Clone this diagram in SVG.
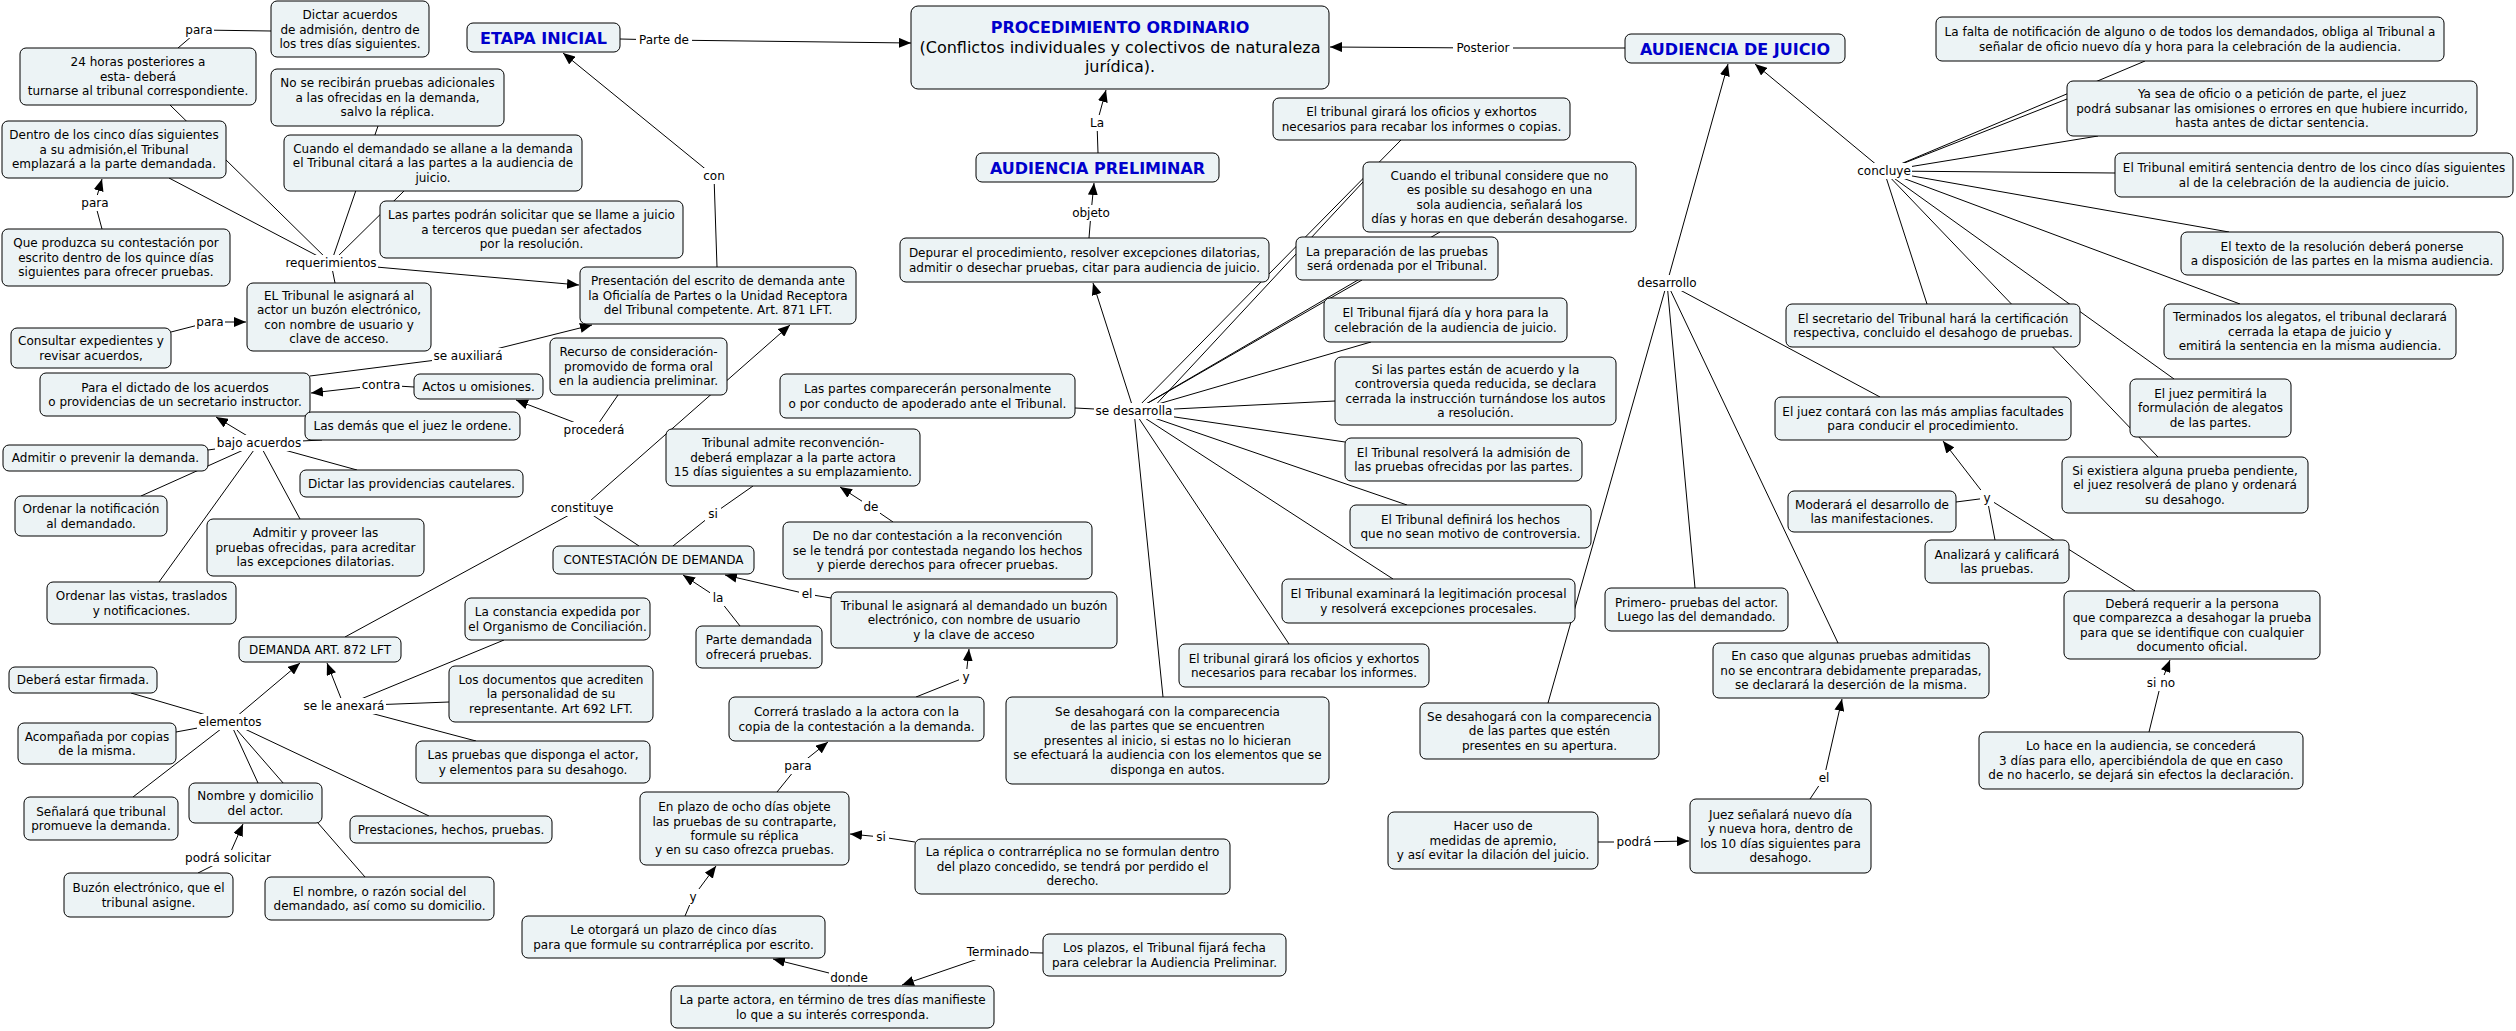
<svg xmlns="http://www.w3.org/2000/svg" width="2516" height="1031" viewBox="0 0 2516 1031">
<defs>
<marker id="ah" markerWidth="12" markerHeight="10" refX="12" refY="5" orient="auto" markerUnits="userSpaceOnUse"><path d="M0,0 L12,5 L0,10 z" fill="#000"/></marker>
<style>
.bg{fill:#fff}
.n rect{fill:#ECF3F5;stroke:#000;stroke-width:1}
.t{font-family:"DejaVu Sans",Verdana,sans-serif;font-size:12px;text-anchor:middle;fill:#000}
.ti{font-family:"DejaVu Sans",Verdana,sans-serif;font-size:16px;font-weight:bold;text-anchor:middle;fill:#0000CC}
.st{font-family:"DejaVu Sans",Verdana,sans-serif;font-size:16px;text-anchor:middle;fill:#000}
.c path{fill:none;stroke:#000;stroke-width:1}
.c path.a{marker-end:url(#ah)}
.lb rect{fill:#fff}
</style>
</defs>
<rect class="bg" x="0" y="0" width="2516" height="1031"/>
<g id="connectors" class="c">
<path d="M620,39 L664,40"/><path class="a" d="M664,40 L911,43"/>
<path d="M717,267 L714,176"/><path class="a" d="M714,176 L563,53"/>
<path d="M1098,153 L1097,123"/><path class="a" d="M1097,123 L1106,90"/>
<path d="M1089,238 L1091,213"/><path class="a" d="M1091,213 L1094,183"/>
<path d="M1625,48 L1483,48"/><path class="a" d="M1483,48 L1330,47"/>
<path class="a" d="M1134,411 L1093,283"/>
<path d="M1134,411 L1075,408"/>
<path d="M1134,411 L1401,140"/>
<path d="M1150,411 L1363,182"/>
<path d="M1134,411 L1362,280"/>
<path d="M1134,411 L1440,232"/>
<path d="M1134,411 L1371,342"/>
<path d="M1134,411 L1335,401"/>
<path d="M1134,411 L1345,442"/>
<path d="M1134,411 L1407,505"/>
<path d="M1134,411 L1393,579"/>
<path d="M1134,411 L1289,644"/>
<path d="M1134,411 L1163,697"/>
<path class="a" d="M1667,283 L1728,64"/>
<path d="M1667,283 L1548,703"/>
<path d="M1667,283 L1695,588"/>
<path d="M1667,283 L1838,643"/>
<path d="M1667,283 L1880,397"/>
<path class="a" d="M1884,171 L1755,64"/>
<path d="M1884,171 L2145,61"/>
<path d="M1884,171 L2067,99"/>
<path d="M1884,171 L2098,136"/>
<path d="M1884,171 L2115,173"/>
<path d="M1884,171 L2229,232"/>
<path d="M1884,171 L2240,304"/>
<path d="M1884,171 L2174,379"/>
<path d="M1884,171 L1927,304"/>
<path d="M1884,171 L2158,457"/>
<path class="a" d="M1987,498 L1943,441"/>
<path d="M1956,502 L1987,498"/>
<path d="M1987,498 L1995,540"/>
<path d="M1987,498 L2135,591"/>
<path d="M2149,732 L2161,683"/><path class="a" d="M2161,683 L2170,660"/>
<path d="M1598,842 L1634,842"/><path class="a" d="M1634,842 L1689,841"/>
<path d="M1810,799 L1824,778"/><path class="a" d="M1824,778 L1842,699"/>
<path d="M1043,953 L998,952"/><path class="a" d="M998,952 L902,985"/>
<path d="M849,986 L849,978"/><path class="a" d="M849,978 L773,959"/>
<path d="M685,916 L693,897"/><path class="a" d="M693,897 L716,866"/>
<path d="M915,842 L881,837"/><path class="a" d="M881,837 L850,834"/>
<path d="M777,792 L798,766"/><path class="a" d="M798,766 L828,742"/>
<path d="M916,697 L966,677"/><path class="a" d="M966,677 L969,649"/>
<path d="M831,598 L807,594"/><path class="a" d="M807,594 L725,575"/>
<path d="M740,626 L718,598"/><path class="a" d="M718,598 L683,575"/>
<path d="M893,522 L871,507"/><path class="a" d="M871,507 L840,487"/>
<path d="M673,546 L713,514"/><path d="M713,514 L753,486"/>
<path d="M639,546 L582,508"/><path d="M345,637 L582,508"/><path class="a" d="M582,508 L790,325"/>
<path class="a" d="M344,706 L327,663"/>
<path d="M344,706 L504,640"/>
<path d="M344,706 L449,702"/>
<path d="M344,706 L476,741"/>
<path class="a" d="M230,722 L300,663"/>
<path d="M230,722 L131,693"/>
<path d="M230,722 L176,732"/>
<path d="M230,722 L133,797"/>
<path d="M230,722 L258,783"/>
<path d="M230,722 L365,877"/>
<path d="M230,722 L429,816"/>
<path d="M198,873 L228,858"/><path class="a" d="M228,858 L243,824"/>
<path class="a" d="M259,443 L216,417"/>
<path d="M259,443 L322,440"/>
<path d="M259,443 L208,450"/>
<path d="M259,443 L141,496"/>
<path d="M259,443 L159,582"/>
<path d="M259,443 L300,519"/>
<path d="M259,443 L357,470"/>
<path d="M414,387 L381,385"/><path class="a" d="M381,385 L311,393"/>
<path d="M618,395 L594,430"/><path class="a" d="M594,430 L516,400"/>
<path d="M310,376 L468,356"/><path class="a" d="M468,356 L592,325"/>
<path d="M171,332 L210,322"/><path class="a" d="M210,322 L246,322"/>
<path class="a" d="M331,263 L579,285"/>
<path d="M331,263 L170,105"/>
<path d="M331,263 L169,178"/>
<path d="M331,263 L378,126"/>
<path d="M331,263 L404,191"/>
<path d="M331,263 L335,283"/>
<path d="M102,229 L95,203"/><path class="a" d="M95,203 L102,179"/>
<path d="M178,48 L199,30"/><path d="M199,30 L271,31"/>
<g class="lb">
<rect x="184" y="22" width="30" height="16"/><text class="t" x="199" y="34.3">para</text>
<rect x="636" y="32" width="56" height="16"/><text class="t" x="664" y="44.3">Parte de</text>
<rect x="701" y="168" width="26" height="16"/><text class="t" x="714" y="180.3">con</text>
<rect x="284" y="255" width="94" height="16"/><text class="t" x="331" y="267.3">requerimientos</text>
<rect x="80" y="195" width="30" height="16"/><text class="t" x="95" y="207.3">para</text>
<rect x="195" y="314" width="30" height="16"/><text class="t" x="210" y="326.3">para</text>
<rect x="432" y="348" width="72" height="16"/><text class="t" x="468" y="360.3">se auxiliará</text>
<rect x="360" y="377" width="42" height="16"/><text class="t" x="381" y="389.3">contra</text>
<rect x="562" y="422" width="64" height="16"/><text class="t" x="594" y="434.3">procederá</text>
<rect x="215" y="435" width="88" height="16"/><text class="t" x="259" y="447.3">bajo acuerdos</text>
<rect x="549" y="500" width="66" height="16"/><text class="t" x="582" y="512.3">constituye</text>
<rect x="705" y="506" width="16" height="16"/><text class="t" x="713" y="518.3">si</text>
<rect x="862" y="499" width="18" height="16"/><text class="t" x="871" y="511.3">de</text>
<rect x="710" y="590" width="16" height="16"/><text class="t" x="718" y="602.3">la</text>
<rect x="799" y="586" width="16" height="16"/><text class="t" x="807" y="598.3">el</text>
<rect x="302" y="698" width="84" height="16"/><text class="t" x="344" y="710.3">se le anexará</text>
<rect x="197" y="714" width="66" height="16"/><text class="t" x="230" y="726.3">elementos</text>
<rect x="181" y="850" width="94" height="16"/><text class="t" x="228" y="862.3">podrá solicitar</text>
<rect x="959" y="669" width="14" height="16"/><text class="t" x="966" y="681.3">y</text>
<rect x="783" y="758" width="30" height="16"/><text class="t" x="798" y="770.3">para</text>
<rect x="873" y="829" width="16" height="16"/><text class="t" x="881" y="841.3">si</text>
<rect x="686" y="889" width="14" height="16"/><text class="t" x="693" y="901.3">y</text>
<rect x="829" y="970" width="40" height="15"/><text class="t" x="849" y="982.3">donde</text>
<rect x="966" y="944" width="64" height="16"/><text class="t" x="998" y="956.3">Terminado</text>
<rect x="1087" y="115" width="20" height="16"/><text class="t" x="1097" y="127.3">La</text>
<rect x="1069" y="205" width="44" height="16"/><text class="t" x="1091" y="217.3">objeto</text>
<rect x="1094" y="403" width="80" height="16"/><text class="t" x="1134" y="415.3">se desarrolla</text>
<rect x="1453" y="40" width="60" height="16"/><text class="t" x="1483" y="52.3">Posterior</text>
<rect x="1635" y="275" width="64" height="16"/><text class="t" x="1667" y="287.3">desarrollo</text>
<rect x="1856" y="163" width="56" height="16"/><text class="t" x="1884" y="175.3">concluye</text>
<rect x="1980" y="490" width="14" height="16"/><text class="t" x="1987" y="502.3">y</text>
<rect x="2144" y="675" width="34" height="16"/><text class="t" x="2161" y="687.3">si no</text>
<rect x="1614" y="834" width="40" height="16"/><text class="t" x="1634" y="846.3">podrá</text>
<rect x="1816" y="770" width="16" height="16"/><text class="t" x="1824" y="782.3">el</text>
</g>
</g>
<g id="procedimiento" class="n"><rect x="911" y="6" width="418" height="83" rx="7"/><text class="ti" x="1120" y="33">PROCEDIMIENTO ORDINARIO</text><text class="st" x="1120" y="53">(Conflictos individuales y colectivos de naturaleza</text><text class="st" x="1120" y="72">jurídica).</text></g>
<g id="etapa" class="n"><rect x="467" y="23" width="153" height="29" rx="6"/><text class="ti" x="543.5" y="43.5">ETAPA INICIAL</text></g>
<g id="audPrel" class="n"><rect x="976" y="153" width="243" height="29" rx="6"/><text class="ti" x="1097.5" y="173.5">AUDIENCIA PRELIMINAR</text></g>
<g id="audJuicio" class="n"><rect x="1625" y="34" width="220" height="29" rx="6"/><text class="ti" x="1735" y="54.5">AUDIENCIA DE JUICIO</text></g>
<g id="dictar" class="n"><rect x="271" y="1" width="158" height="56" rx="6"/><text class="t" x="350" y="19.1"><tspan x="350">Dictar acuerdos</tspan><tspan x="350" dy="14.4">de admisión, dentro de</tspan><tspan x="350" dy="14.4">los tres días siguientes.</tspan></text></g>
<g id="h24" class="n"><rect x="20" y="48" width="236" height="57" rx="6"/><text class="t" x="138" y="66.4"><tspan x="138">24 horas posteriores a</tspan><tspan x="138" dy="14.4">esta- deberá</tspan><tspan x="138" dy="14.4">turnarse al tribunal correspondiente.</tspan></text></g>
<g id="norecib" class="n"><rect x="271" y="69" width="233" height="57" rx="6"/><text class="t" x="387.5" y="87.4"><tspan x="387.5">No se recibirán pruebas adicionales</tspan><tspan x="387.5" dy="14.4">a las ofrecidas en la demanda,</tspan><tspan x="387.5" dy="14.4">salvo la réplica.</tspan></text></g>
<g id="dentro" class="n"><rect x="2" y="121" width="224" height="57" rx="6"/><text class="t" x="114" y="139.4"><tspan x="114">Dentro de los cinco días siguientes</tspan><tspan x="114" dy="14.4">a su admisión,el Tribunal</tspan><tspan x="114" dy="14.4">emplazará a la parte demandada.</tspan></text></g>
<g id="cuandoDem" class="n"><rect x="284" y="135" width="298" height="56" rx="6"/><text class="t" x="433" y="152.9"><tspan x="433">Cuando el demandado se allane a la demanda</tspan><tspan x="433" dy="14.4">el Tribunal citará a las partes a la audiencia de</tspan><tspan x="433" dy="14.4">juicio.</tspan></text></g>
<g id="partesPod" class="n"><rect x="380" y="201" width="303" height="57" rx="6"/><text class="t" x="531.5" y="219.4"><tspan x="531.5">Las partes podrán solicitar que se llame a juicio</tspan><tspan x="531.5" dy="14.4">a terceros que puedan ser afectados</tspan><tspan x="531.5" dy="14.4">por la resolución.</tspan></text></g>
<g id="produzca" class="n"><rect x="2" y="229" width="228" height="57" rx="6"/><text class="t" x="116" y="247.4"><tspan x="116">Que produzca su contestación por</tspan><tspan x="116" dy="14.4">escrito dentro de los quince días</tspan><tspan x="116" dy="14.4">siguientes para ofrecer pruebas.</tspan></text></g>
<g id="elTribActor" class="n"><rect x="247" y="283" width="184" height="68" rx="6"/><text class="t" x="339" y="299.7"><tspan x="339">EL Tribunal le asignará al</tspan><tspan x="339" dy="14.4">actor un buzón electrónico,</tspan><tspan x="339" dy="14.4">con nombre de usuario y</tspan><tspan x="339" dy="14.4">clave de acceso.</tspan></text></g>
<g id="presentacion" class="n"><rect x="580" y="267" width="276" height="57" rx="6"/><text class="t" x="718" y="285.4"><tspan x="718">Presentación del escrito de demanda ante</tspan><tspan x="718" dy="14.4">la Oficialía de Partes o la Unidad Receptora</tspan><tspan x="718" dy="14.4">del Tribunal competente. Art. 871 LFT.</tspan></text></g>
<g id="consultar" class="n"><rect x="11" y="328" width="160" height="40" rx="6"/><text class="t" x="91" y="345.1"><tspan x="91">Consultar expedientes y</tspan><tspan x="91" dy="14.4">revisar acuerdos,</tspan></text></g>
<g id="recurso" class="n"><rect x="550" y="338" width="177" height="57" rx="6"/><text class="t" x="638.5" y="356.4"><tspan x="638.5">Recurso de consideración-</tspan><tspan x="638.5" dy="14.4">promovido de forma oral</tspan><tspan x="638.5" dy="14.4">en la audiencia preliminar.</tspan></text></g>
<g id="paraDictado" class="n"><rect x="40" y="373" width="270" height="43" rx="6"/><text class="t" x="175" y="391.6"><tspan x="175">Para el dictado de los acuerdos</tspan><tspan x="175" dy="14.4">o providencias de un secretario instructor.</tspan></text></g>
<g id="actos" class="n"><rect x="414" y="374" width="129" height="25" rx="6"/><text class="t" x="478.5" y="390.8">Actos u omisiones.</text></g>
<g id="lasDemas" class="n"><rect x="305" y="412" width="215" height="28" rx="6"/><text class="t" x="412.5" y="430.3">Las demás que el juez le ordene.</text></g>
<g id="admitirPrev" class="n"><rect x="3" y="445" width="205" height="26" rx="6"/><text class="t" x="105.5" y="462.3">Admitir o prevenir la demanda.</text></g>
<g id="dictarProv" class="n"><rect x="300" y="470" width="223" height="27" rx="6"/><text class="t" x="411.5" y="487.8">Dictar las providencias cautelares.</text></g>
<g id="ordenarNotif" class="n"><rect x="15" y="496" width="152" height="40" rx="6"/><text class="t" x="91" y="513.1"><tspan x="91">Ordenar la notificación</tspan><tspan x="91" dy="14.4">al demandado.</tspan></text></g>
<g id="admitirProv" class="n"><rect x="207" y="519" width="217" height="57" rx="6"/><text class="t" x="315.5" y="537.4"><tspan x="315.5">Admitir y proveer las</tspan><tspan x="315.5" dy="14.4">pruebas ofrecidas, para acreditar</tspan><tspan x="315.5" dy="14.4">las excepciones dilatorias.</tspan></text></g>
<g id="ordenarVistas" class="n"><rect x="47" y="582" width="189" height="42" rx="6"/><text class="t" x="141.5" y="600.1"><tspan x="141.5">Ordenar las vistas, traslados</tspan><tspan x="141.5" dy="14.4">y notificaciones.</tspan></text></g>
<g id="contestacion" class="n"><rect x="553" y="546" width="201" height="28" rx="6"/><text class="t" x="653.5" y="564.3">CONTESTACIÓN DE DEMANDA</text></g>
<g id="demanda" class="n"><rect x="239" y="637" width="162" height="25" rx="6"/><text class="t" x="320" y="653.8">DEMANDA ART. 872 LFT</text></g>
<g id="constancia" class="n"><rect x="465" y="598" width="185" height="42" rx="6"/><text class="t" x="557.5" y="616.1"><tspan x="557.5">La constancia expedida por</tspan><tspan x="557.5" dy="14.4">el Organismo de Conciliación.</tspan></text></g>
<g id="documentos" class="n"><rect x="449" y="666" width="204" height="56" rx="6"/><text class="t" x="551" y="683.9"><tspan x="551">Los documentos que acrediten</tspan><tspan x="551" dy="14.4">la personalidad de su</tspan><tspan x="551" dy="14.4">representante. Art 692 LFT.</tspan></text></g>
<g id="pruebasActor" class="n"><rect x="416" y="741" width="234" height="42" rx="6"/><text class="t" x="533" y="759.1"><tspan x="533">Las pruebas que disponga el actor,</tspan><tspan x="533" dy="14.4">y elementos para su desahogo.</tspan></text></g>
<g id="firmada" class="n"><rect x="9" y="667" width="148" height="26" rx="6"/><text class="t" x="83" y="684.3">Deberá estar firmada.</text></g>
<g id="acompanada" class="n"><rect x="18" y="723" width="158" height="41" rx="6"/><text class="t" x="97" y="740.6"><tspan x="97">Acompañada por copias</tspan><tspan x="97" dy="14.4">de la misma.</tspan></text></g>
<g id="senalara" class="n"><rect x="24" y="797" width="154" height="43" rx="6"/><text class="t" x="101" y="815.6"><tspan x="101">Señalará que tribunal</tspan><tspan x="101" dy="14.4">promueve la demanda.</tspan></text></g>
<g id="nombreActor" class="n"><rect x="189" y="783" width="133" height="40" rx="6"/><text class="t" x="255.5" y="800.1"><tspan x="255.5">Nombre y domicilio</tspan><tspan x="255.5" dy="14.4">del actor.</tspan></text></g>
<g id="prestaciones" class="n"><rect x="350" y="816" width="202" height="27" rx="6"/><text class="t" x="451" y="833.8">Prestaciones, hechos, pruebas.</text></g>
<g id="buzon" class="n"><rect x="64" y="873" width="169" height="44" rx="6"/><text class="t" x="148.5" y="892.1"><tspan x="148.5">Buzón electrónico, que el</tspan><tspan x="148.5" dy="14.4">tribunal asigne.</tspan></text></g>
<g id="nombreDem" class="n"><rect x="265" y="877" width="229" height="43" rx="6"/><text class="t" x="379.5" y="895.6"><tspan x="379.5">El nombre, o razón social del</tspan><tspan x="379.5" dy="14.4">demandado, así como su domicilio.</tspan></text></g>
<g id="partesComp" class="n"><rect x="780" y="374" width="295" height="44" rx="6"/><text class="t" x="927.5" y="393.1"><tspan x="927.5">Las partes comparecerán personalmente</tspan><tspan x="927.5" dy="14.4">o por conducto de apoderado ante el Tribunal.</tspan></text></g>
<g id="reconv" class="n"><rect x="666" y="429" width="254" height="57" rx="6"/><text class="t" x="793" y="447.4"><tspan x="793">Tribunal admite reconvención-</tspan><tspan x="793" dy="14.4">deberá emplazar a la parte actora</tspan><tspan x="793" dy="14.4">15 días siguientes a su emplazamiento.</tspan></text></g>
<g id="deNoDar" class="n"><rect x="783" y="522" width="309" height="57" rx="6"/><text class="t" x="937.5" y="540.4"><tspan x="937.5">De no dar contestación a la reconvención</tspan><tspan x="937.5" dy="14.4">se le tendrá por contestada negando los hechos</tspan><tspan x="937.5" dy="14.4">y pierde derechos para ofrecer pruebas.</tspan></text></g>
<g id="parteDem" class="n"><rect x="696" y="626" width="126" height="42" rx="6"/><text class="t" x="759" y="644.1"><tspan x="759">Parte demandada</tspan><tspan x="759" dy="14.4">ofrecerá pruebas.</tspan></text></g>
<g id="tribDem" class="n"><rect x="831" y="592" width="286" height="56" rx="6"/><text class="t" x="974" y="609.9"><tspan x="974">Tribunal le asignará al demandado un buzón</tspan><tspan x="974" dy="14.4">electrónico, con nombre de usuario</tspan><tspan x="974" dy="14.4">y la clave de acceso</tspan></text></g>
<g id="correra" class="n"><rect x="729" y="697" width="255" height="44" rx="6"/><text class="t" x="856.5" y="716.1"><tspan x="856.5">Correrá traslado a la actora con la</tspan><tspan x="856.5" dy="14.4">copia de la contestación a la demanda.</tspan></text></g>
<g id="enPlazo" class="n"><rect x="640" y="792" width="209" height="73" rx="6"/><text class="t" x="744.5" y="811.2"><tspan x="744.5">En plazo de ocho días objete</tspan><tspan x="744.5" dy="14.4">las pruebas de su contraparte,</tspan><tspan x="744.5" dy="14.4">formule su réplica</tspan><tspan x="744.5" dy="14.4">y en su caso ofrezca pruebas.</tspan></text></g>
<g id="replica" class="n"><rect x="915" y="839" width="315" height="55" rx="6"/><text class="t" x="1072.5" y="856.4"><tspan x="1072.5">La réplica o contrarréplica no se formulan dentro</tspan><tspan x="1072.5" dy="14.4">del plazo concedido, se tendrá por perdido el</tspan><tspan x="1072.5" dy="14.4">derecho.</tspan></text></g>
<g id="otorgara" class="n"><rect x="522" y="916" width="303" height="42" rx="6"/><text class="t" x="673.5" y="934.1"><tspan x="673.5">Le otorgará un plazo de cinco días</tspan><tspan x="673.5" dy="14.4">para que formule su contrarréplica por escrito.</tspan></text></g>
<g id="parteActora" class="n"><rect x="671" y="986" width="323" height="42" rx="6"/><text class="t" x="832.5" y="1004.1"><tspan x="832.5">La parte actora, en término de tres días manifieste</tspan><tspan x="832.5" dy="14.4">lo que a su interés corresponda.</tspan></text></g>
<g id="plazos" class="n"><rect x="1043" y="934" width="243" height="42" rx="6"/><text class="t" x="1164.5" y="952.1"><tspan x="1164.5">Los plazos, el Tribunal fijará fecha</tspan><tspan x="1164.5" dy="14.4">para celebrar la Audiencia Preliminar.</tspan></text></g>
<g id="desahogaIzq" class="n"><rect x="1006" y="697" width="323" height="87" rx="6"/><text class="t" x="1167.5" y="716"><tspan x="1167.5">Se desahogará con la comparecencia</tspan><tspan x="1167.5" dy="14.4">de las partes que se encuentren</tspan><tspan x="1167.5" dy="14.4">presentes al inicio, si estas no lo hicieran</tspan><tspan x="1167.5" dy="14.4">se efectuará la audiencia con los elementos que se</tspan><tspan x="1167.5" dy="14.4">disponga en autos.</tspan></text></g>
<g id="depurar" class="n"><rect x="900" y="238" width="369" height="44" rx="6"/><text class="t" x="1084.5" y="257.1"><tspan x="1084.5">Depurar el procedimiento, resolver excepciones dilatorias,</tspan><tspan x="1084.5" dy="14.4">admitir o desechar pruebas, citar para audiencia de juicio.</tspan></text></g>
<g id="girarTop" class="n"><rect x="1273" y="98" width="297" height="42" rx="6"/><text class="t" x="1421.5" y="116.1"><tspan x="1421.5">El tribunal girará los oficios y exhortos</tspan><tspan x="1421.5" dy="14.4">necesarios para recabar los informes o copias.</tspan></text></g>
<g id="cuandoTrib" class="n"><rect x="1363" y="162" width="273" height="70" rx="6"/><text class="t" x="1499.5" y="179.7"><tspan x="1499.5">Cuando el tribunal considere que no</tspan><tspan x="1499.5" dy="14.4">es posible su desahogo en una</tspan><tspan x="1499.5" dy="14.4">sola audiencia, señalará los</tspan><tspan x="1499.5" dy="14.4">días y horas en que deberán desahogarse.</tspan></text></g>
<g id="preparacion" class="n"><rect x="1296" y="237" width="202" height="43" rx="6"/><text class="t" x="1397" y="255.6"><tspan x="1397">La preparación de las pruebas</tspan><tspan x="1397" dy="14.4">será ordenada por el Tribunal.</tspan></text></g>
<g id="fijara" class="n"><rect x="1324" y="298" width="243" height="44" rx="6"/><text class="t" x="1445.5" y="317.1"><tspan x="1445.5">El Tribunal fijará día y hora para la</tspan><tspan x="1445.5" dy="14.4">celebración de la audiencia de juicio.</tspan></text></g>
<g id="siPartes" class="n"><rect x="1335" y="357" width="281" height="68" rx="6"/><text class="t" x="1475.5" y="373.7"><tspan x="1475.5">Si las partes están de acuerdo y la</tspan><tspan x="1475.5" dy="14.4">controversia queda reducida, se declara</tspan><tspan x="1475.5" dy="14.4">cerrada la instrucción turnándose los autos</tspan><tspan x="1475.5" dy="14.4">a resolución.</tspan></text></g>
<g id="resolvera" class="n"><rect x="1345" y="438" width="237" height="43" rx="6"/><text class="t" x="1463.5" y="456.6"><tspan x="1463.5">El Tribunal resolverá la admisión de</tspan><tspan x="1463.5" dy="14.4">las pruebas ofrecidas por las partes.</tspan></text></g>
<g id="definira" class="n"><rect x="1350" y="505" width="241" height="43" rx="6"/><text class="t" x="1470.5" y="523.6"><tspan x="1470.5">El Tribunal definirá los hechos</tspan><tspan x="1470.5" dy="14.4">que no sean motivo de controversia.</tspan></text></g>
<g id="examinara" class="n"><rect x="1282" y="579" width="293" height="44" rx="6"/><text class="t" x="1428.5" y="598.1"><tspan x="1428.5">El Tribunal examinará la legitimación procesal</tspan><tspan x="1428.5" dy="14.4">y resolverá excepciones procesales.</tspan></text></g>
<g id="girarBot" class="n"><rect x="1179" y="644" width="250" height="43" rx="6"/><text class="t" x="1304" y="662.6"><tspan x="1304">El tribunal girará los oficios y exhortos</tspan><tspan x="1304" dy="14.4">necesarios para recabar los informes.</tspan></text></g>
<g id="laFalta" class="n"><rect x="1936" y="17" width="508" height="44" rx="6"/><text class="t" x="2190" y="36.1"><tspan x="2190">La falta de notificación de alguno o de todos los demandados, obliga al Tribunal a</tspan><tspan x="2190" dy="14.4">señalar de oficio nuevo día y hora para la celebración de la audiencia.</tspan></text></g>
<g id="yaSea" class="n"><rect x="2067" y="81" width="410" height="55" rx="6"/><text class="t" x="2272" y="98.4"><tspan x="2272">Ya sea de oficio o a petición de parte, el juez</tspan><tspan x="2272" dy="14.4">podrá subsanar las omisiones o errores en que hubiere incurrido,</tspan><tspan x="2272" dy="14.4">hasta antes de dictar sentencia.</tspan></text></g>
<g id="emitira" class="n"><rect x="2115" y="153" width="398" height="44" rx="6"/><text class="t" x="2314" y="172.1"><tspan x="2314">El Tribunal emitirá sentencia dentro de los cinco días siguientes</tspan><tspan x="2314" dy="14.4">al de la celebración de la audiencia de juicio.</tspan></text></g>
<g id="texto" class="n"><rect x="2181" y="232" width="322" height="43" rx="6"/><text class="t" x="2342" y="250.6"><tspan x="2342">El texto de la resolución deberá ponerse</tspan><tspan x="2342" dy="14.4">a disposición de las partes en la misma audiencia.</tspan></text></g>
<g id="secretario" class="n"><rect x="1786" y="304" width="294" height="43" rx="6"/><text class="t" x="1933" y="322.6"><tspan x="1933">El secretario del Tribunal hará la certificación</tspan><tspan x="1933" dy="14.4">respectiva, concluido el desahogo de pruebas.</tspan></text></g>
<g id="terminados" class="n"><rect x="2164" y="304" width="292" height="55" rx="6"/><text class="t" x="2310" y="321.4"><tspan x="2310">Terminados los alegatos, el tribunal declarará</tspan><tspan x="2310" dy="14.4">cerrada la etapa de juicio y</tspan><tspan x="2310" dy="14.4">emitirá la sentencia en la misma audiencia.</tspan></text></g>
<g id="juezPermitira" class="n"><rect x="2130" y="379" width="161" height="58" rx="6"/><text class="t" x="2210.5" y="397.9"><tspan x="2210.5">El juez permitirá la</tspan><tspan x="2210.5" dy="14.4">formulación de alegatos</tspan><tspan x="2210.5" dy="14.4">de las partes.</tspan></text></g>
<g id="juezContara" class="n"><rect x="1775" y="397" width="296" height="43" rx="6"/><text class="t" x="1923" y="415.6"><tspan x="1923">El juez contará con las más amplias facultades</tspan><tspan x="1923" dy="14.4">para conducir el procedimiento.</tspan></text></g>
<g id="siExistiera" class="n"><rect x="2062" y="457" width="246" height="56" rx="6"/><text class="t" x="2185" y="474.9"><tspan x="2185">Si existiera alguna prueba pendiente,</tspan><tspan x="2185" dy="14.4">el juez resolverá de plano y ordenará</tspan><tspan x="2185" dy="14.4">su desahogo.</tspan></text></g>
<g id="moderara" class="n"><rect x="1788" y="491" width="168" height="41" rx="6"/><text class="t" x="1872" y="508.6"><tspan x="1872">Moderará el desarrollo de</tspan><tspan x="1872" dy="14.4">las manifestaciones.</tspan></text></g>
<g id="analizara" class="n"><rect x="1925" y="540" width="144" height="43" rx="6"/><text class="t" x="1997" y="558.6"><tspan x="1997">Analizará y calificará</tspan><tspan x="1997" dy="14.4">las pruebas.</tspan></text></g>
<g id="primero" class="n"><rect x="1605" y="588" width="183" height="43" rx="6"/><text class="t" x="1696.5" y="606.6"><tspan x="1696.5">Primero- pruebas del actor.</tspan><tspan x="1696.5" dy="14.4">Luego las del demandado.</tspan></text></g>
<g id="deberaReq" class="n"><rect x="2064" y="591" width="256" height="68" rx="6"/><text class="t" x="2192" y="607.7"><tspan x="2192">Deberá requerir a la persona</tspan><tspan x="2192" dy="14.4">que comparezca a desahogar la prueba</tspan><tspan x="2192" dy="14.4">para que se identifique con cualquier</tspan><tspan x="2192" dy="14.4">documento oficial.</tspan></text></g>
<g id="enCaso" class="n"><rect x="1713" y="643" width="276" height="55" rx="6"/><text class="t" x="1851" y="660.4"><tspan x="1851">En caso que algunas pruebas admitidas</tspan><tspan x="1851" dy="14.4">no se encontrara debidamente preparadas,</tspan><tspan x="1851" dy="14.4">se declarará la deserción de la misma.</tspan></text></g>
<g id="desahogaDer" class="n"><rect x="1420" y="703" width="239" height="56" rx="6"/><text class="t" x="1539.5" y="720.9"><tspan x="1539.5">Se desahogará con la comparecencia</tspan><tspan x="1539.5" dy="14.4">de las partes que estén</tspan><tspan x="1539.5" dy="14.4">presentes en su apertura.</tspan></text></g>
<g id="loHace" class="n"><rect x="1979" y="732" width="324" height="57" rx="6"/><text class="t" x="2141" y="750.4"><tspan x="2141">Lo hace en la audiencia, se concederá</tspan><tspan x="2141" dy="14.4">3 días para ello, apercibiéndola de que en caso</tspan><tspan x="2141" dy="14.4">de no hacerlo, se dejará sin efectos la declaración.</tspan></text></g>
<g id="hacer" class="n"><rect x="1388" y="812" width="210" height="57" rx="6"/><text class="t" x="1493" y="830.4"><tspan x="1493">Hacer uso de</tspan><tspan x="1493" dy="14.4">medidas de apremio,</tspan><tspan x="1493" dy="14.4">y así evitar la dilación del juicio.</tspan></text></g>
<g id="juezSenalara" class="n"><rect x="1690" y="799" width="181" height="74" rx="6"/><text class="t" x="1780.5" y="818.7"><tspan x="1780.5">Juez señalará nuevo día</tspan><tspan x="1780.5" dy="14.4">y nueva hora, dentro de</tspan><tspan x="1780.5" dy="14.4">los 10 días siguientes para</tspan><tspan x="1780.5" dy="14.4">desahogo.</tspan></text></g>
</svg>
